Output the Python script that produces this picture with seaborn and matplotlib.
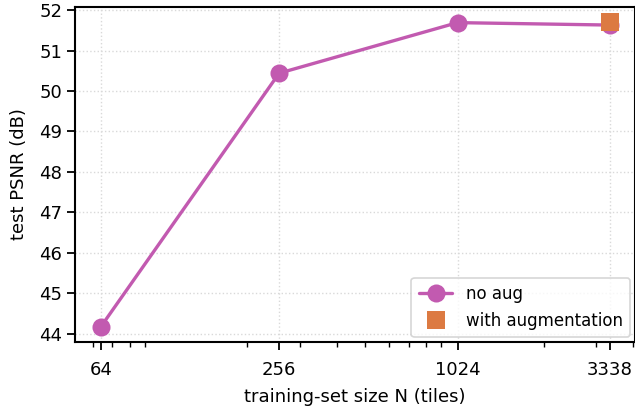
import matplotlib
matplotlib.use("Agg")
import matplotlib.pyplot as plt
import matplotlib.ticker as mticker
import seaborn as sns
import pandas as pd

# === Data
sizes = [64, 256, 1024, 3338]
psnr_no_aug = [44.17, 50.44, 51.69, 51.63]
aug_sizes = [3338]
psnr_aug = [51.70]
tick_labels = ["64", "256", "1024", "3338"]

df_no = pd.DataFrame({"N": sizes, "psnr": psnr_no_aug})
df_aug = pd.DataFrame({"N": aug_sizes, "psnr": psnr_aug})

PURPLE = "#c25ab0"
ORANGE = "#dc7a42"

sns.set_style("ticks", {"text.color": "black", "axes.labelcolor": "black",
                        "xtick.color": "black", "ytick.color": "black"})
plt.rcParams["font.family"] = ["DejaVu Sans"]

fig = plt.figure(figsize=(6.35, 4.09), dpi=100)
ax = fig.add_axes([0.1187, 0.1638, 0.8813, 0.8191])

sns.lineplot(data=df_no, x="N", y="psnr", ax=ax, color=PURPLE, lw=2.4,
             marker="o", markersize=13, markeredgewidth=0, label="no aug", zorder=3)
sns.lineplot(data=df_aug, x="N", y="psnr", ax=ax, color=ORANGE, linestyle="none",
             marker="s", markersize=13, markeredgewidth=0, label="with augmentation", zorder=4)

ax.set_xscale("log")
ax.set_xticks(sizes, labels=tick_labels)
ax.xaxis.set_minor_formatter(mticker.NullFormatter())
ax.margins(x=0.05, y=0.05)

ax.grid(True, which="major", linestyle=":", color="#d9d9d9", lw=1)
for s in ax.spines.values():
    s.set_linewidth(1.5)
    s.set_color("black")
ax.tick_params(which="major", length=6, width=1.3, labelsize=13)
ax.tick_params(axis="x", which="major", pad=8)
ax.tick_params(which="minor", length=3.5, width=1.0)

ax.set_xlabel("training-set size N (tiles)", fontsize=13, labelpad=6)
ax.set_ylabel("test PSNR (dB)", fontsize=13, labelpad=8)

leg = ax.legend(loc="lower right", fontsize=12, frameon=True, borderpad=0.45,
                handlelength=2.0, borderaxespad=0.3)
leg.get_frame().set_edgecolor("#cccccc")
leg.get_frame().set_linewidth(1.2)

fig.savefig("out.png", dpi=100)
